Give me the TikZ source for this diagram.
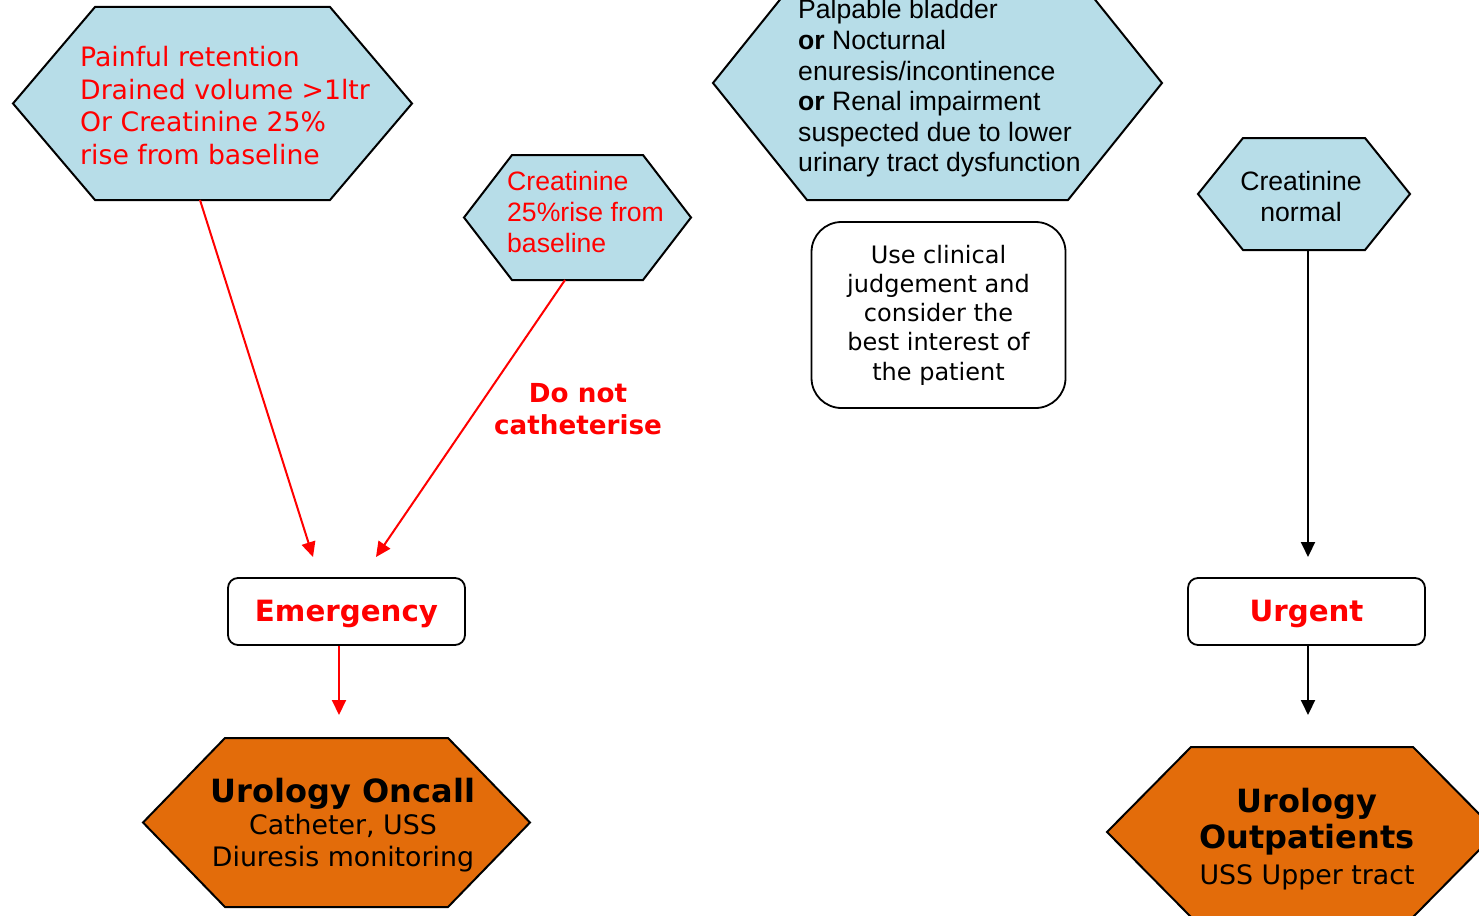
\documentclass[tikz,border=0pt]{standalone}
\usepackage{fontspec}
\setmainfont{DejaVu Sans}
\newfontfamily\arialfont{Liberation Sans}
\usetikzlibrary{arrows.meta}
\definecolor{hexblue}{RGB}{183,221,232}
\definecolor{hexorange}{RGB}{227,108,10}
\definecolor{alertred}{RGB}{255,0,0}
% hexagon drawn round an empty frame node: name, slant, fill
\newcommand{\hexframe}[3]{%
  \draw[hexline, fill=#3] (#1.west) -- ([xshift=#2]#1.north west) -- ([xshift=-#2]#1.north east)
    -- (#1.east) -- ([xshift=-#2]#1.south east) -- ([xshift=#2]#1.south west) -- cycle;}
\begin{document}
\begin{tikzpicture}[x=1pt, y=-1pt,
        hexbox/.style={inner sep=0, outer sep=0},
        hexline/.style={draw=black, line width=2pt, line join=miter},
        txt/.style={inner sep=0, font=\fontsize{26.7}{32.5}\selectfont},
        arialtxt/.style={inner sep=0, font=\arialfont\fontsize{26.6}{30.6}\selectfont},
        level/.style={draw, rounded corners=10pt, line width=1.8pt, minimum width=237, minimum height=67, text depth=1pt, text=alertred, font=\bfseries\fontsize{29.3}{34}\selectfont},
        arrow/.style={-{Triangle[length=15pt, width=14pt]}, line width=2pt}
        ]
        \clip (0,0) rectangle (1479,915);

        \node[hexbox, minimum width=399, minimum height=193] (painful) at (212.5,103.5) {};
        \hexframe{painful}{82}{hexblue}
        \node[txt, text=alertred, align=left, anchor=west] (painfultxt) at (80,105.5) {Painful retention\\Drained volume >1ltr\\Or Creatinine 25\%\\rise from baseline};

        \node[hexbox, minimum width=227, minimum height=125] (creat) at (577.5,217.5) {};
        \hexframe{creat}{48}{hexblue}
        \node[arialtxt, text=alertred, align=left, anchor=west] (creattxt) at (507,212) {Creatinine\\25\%rise from\\baseline};

        \node[hexbox, minimum width=449, minimum height=234] (palpable) at (937.5,83) {};
        \hexframe{palpable}{94}{hexblue}
        \node[arialtxt, align=left, anchor=west] (palpabletxt) at (798,88.5) {Palpable bladder\\\textbf{or} Nocturnal\\enuresis/incontinence\\\textbf{or} Renal impairment\\suspected due to lower\\urinary tract dysfunction};

        \node[hexbox, minimum width=212, minimum height=112] (normal) at (1304,194) {};
        \hexframe{normal}{45}{hexblue}
        \node[arialtxt, align=center] (normaltxt) at (1301,196.5) {Creatinine\\normal};

        \node[draw, rounded corners=30pt, line width=1.8pt, minimum width=254, minimum height=186, align=center, font=\fontsize{24}{29.3}\selectfont] (judge) at (938.5,315) {Use clinical\\judgement and\\consider the\\best interest of\\the patient};

        \node[txt, text=alertred, align=center, font=\bfseries\fontsize{26.2}{32}\selectfont] (nocath) at (578,409) {Do not\\catheterise};

        \node[level] (emergency) at (346.5,611.5) {Emergency};
        \node[level] (urgent) at (1306.5,611.5) {Urgent};

        \node[hexbox, minimum width=387, minimum height=169] (oncall) at (336.5,822.5) {};
        \hexframe{oncall}{82}{hexorange}
        \node[txt, align=center, font=\fontsize{26.8}{32}\selectfont] (oncalltxt) at (343,825) {{\bfseries\fontsize{32}{36}\selectfont Urology Oncall}\\Catheter, USS\\Diuresis monitoring};

        \node[hexbox, minimum width=390, minimum height=170] (outpat) at (1302,832) {};
        \hexframe{outpat}{84}{hexorange}
        \node[txt, align=center, font=\fontsize{26.8}{36}\selectfont] (outpattxt) at (1307,839) {{\bfseries\fontsize{32}{38}\selectfont Urology}\\{\bfseries\fontsize{32}{38}\selectfont Outpatients}\\USS Upper tract};

        \coordinate (emgin1) at (313,557);
        \coordinate (emgin2) at (376,557);
        \coordinate (oncallin) at (339,715);
        \coordinate (urgentin) at (1308,557);
        \coordinate (outpatin) at (1308,715);

        \draw[arrow, alertred] ([xshift=-12.5]painful.south) -- (emgin1);
        \draw[arrow, alertred] ([xshift=-12.5]creat.south) -- (emgin2);
        \draw[arrow, alertred] ([xshift=-7.5]emergency.south) -- (oncallin);
        \draw[arrow] ([xshift=4]normal.south) -- (urgentin);
        \draw[arrow] ([xshift=1.5]urgent.south) -- (outpatin);
\end{tikzpicture}
\end{document}
